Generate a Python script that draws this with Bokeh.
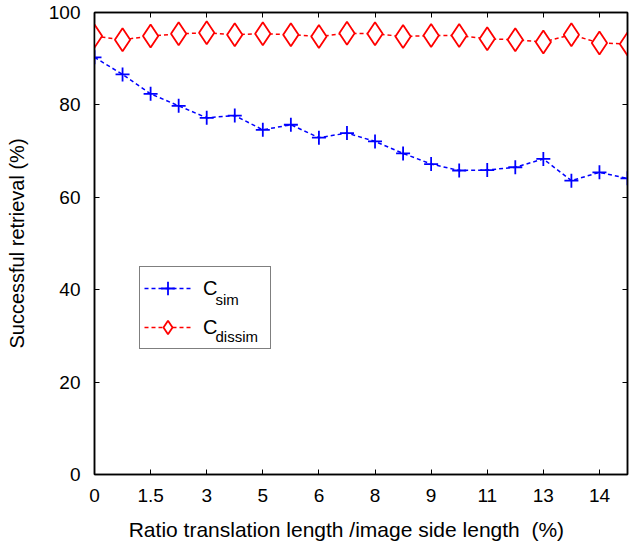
from bokeh.plotting import figure
from bokeh.models import (Range1d, LinearAxis, FixedTicker, Legend, LegendItem, Label)
from bokeh.embed import file_html
from bokeh.resources import INLINE

# Translation steps (evenly spaced sample positions) and their tick labels
step_index = list(range(20))
tick_positions = [0, 2, 4, 6, 8, 10, 12, 14, 16, 18]
tick_labels = ["0", "1.5", "3", "5", "6", "8", "9", "11", "13", "14"]

# Successful retrieval rate (%) per translation step
c_sim = [90.3, 86.6, 82.4, 79.8, 77.2, 77.7, 74.6, 75.7, 72.9, 73.9,
         72.1, 69.5, 67.2, 65.8, 65.9, 66.5, 68.3, 63.6, 65.4, 64.1]
c_dissim = [94.9, 94.1, 94.9, 95.4, 95.6, 95.2, 95.4, 95.2, 94.8, 95.5,
            95.4, 94.8, 95.0, 95.0, 94.3, 94.1, 93.6, 95.2, 93.4, 93.2]

FONT = "Liberation Sans"
BLUE = "#0000ff"
RED = "#ff0000"
NBSP = "\u00a0"

p = figure(width=631, height=545, output_backend="svg", toolbar_location=None,
           x_range=Range1d(0, 19), y_range=Range1d(0, 100),
           min_border_left=94, min_border_right=4, min_border_top=12,
           min_border_bottom=71, x_axis_location=None, y_axis_location=None)
p.grid.visible = False
p.outline_line_color = "black"
p.outline_line_width = 1.5
p.background_fill_color = "white"
p.border_fill_color = "white"

label_map = {pos: lab for pos, lab in zip(tick_positions, tick_labels)}


def style_axis(ax, labelled):
    ax.axis_line_color = "black"
    ax.axis_line_width = 1.5
    ax.major_tick_in = 5
    ax.major_tick_out = 0
    ax.major_tick_line_color = "black"
    ax.major_tick_line_width = 1
    ax.minor_tick_line_color = None
    if labelled:
        ax.major_label_text_font = FONT
        ax.major_label_text_font_size = "19px"
        ax.major_label_text_color = "black"
        ax.major_label_standoff = 14
        ax.axis_label_text_font = FONT
        ax.axis_label_text_font_size = "20px"
        ax.axis_label_text_font_style = "normal"
        ax.axis_label_text_color = "black"
    else:
        # mirrored tick marks only, no labels
        ax.major_label_text_font_size = "1px"
        ax.major_label_text_color = None
        ax.major_label_standoff = 0


# trailing non-breaking spaces keep the title slightly left of the frame centre
x_title = "Ratio translation length /image side length" + NBSP + " (%)" + NBSP * 5
xb = LinearAxis(ticker=FixedTicker(ticks=tick_positions),
                major_label_overrides=label_map, axis_label=x_title)
style_axis(xb, True)
xb.axis_label_text_font_size = "21px"
xb.axis_label_standoff = 13
p.add_layout(xb, "below")

yl = LinearAxis(ticker=FixedTicker(ticks=[0, 20, 40, 60, 80, 100]),
                axis_label="Successful retrieval (%)")
style_axis(yl, True)
yl.axis_label_standoff = 18
p.add_layout(yl, "left")

xt = LinearAxis(ticker=FixedTicker(ticks=tick_positions))
style_axis(xt, False)
p.add_layout(xt, "above")

yr = LinearAxis(ticker=FixedTicker(ticks=[0, 20, 40, 60, 80, 100]))
style_axis(yr, False)
p.add_layout(yr, "right")

# C_sim series: dashed blue line with plus markers
sim_line = p.line(step_index, c_sim, line_color=BLUE, line_width=1.5, line_dash="4 3")
sim_pts = p.scatter(step_index, c_sim, marker="cross", size=14,
                    line_color=BLUE, line_width=1.8)

# C_dissim series: dashed red line with open diamonds
dis_line = p.line(step_index, c_dissim, line_color=RED, line_width=1.5, line_dash="4 3")
dis_pts = p.scatter(step_index, c_dissim, marker="diamond", size=23,
                    line_color=RED, line_width=1.8, fill_color="white")

legend = Legend(items=[LegendItem(label="C", renderers=[sim_line, sim_pts]),
                       LegendItem(label="C", renderers=[dis_line, dis_pts])],
                location=(45, 125), padding=4, spacing=5,
                glyph_width=47, glyph_height=34, label_height=34,
                label_standoff=12, label_width=63, margin=0,
                label_text_font=FONT, label_text_font_size="20px",
                label_text_color="black", label_text_baseline="middle",
                border_line_color="black", border_line_width=1,
                background_fill_color=None)
p.add_layout(legend, "center")

# subscripts of the legend labels
for txt, ybase in (("sim", 175), ("dissim", 138)):
    p.add_layout(Label(x=121, y=ybase, x_units="screen", y_units="screen",
                       text=txt, text_font=FONT, text_font_size="15px",
                       text_color="black", text_baseline="alphabetic",
                       level="overlay"))

open("out.html", "w").write(file_html(p, INLINE))
